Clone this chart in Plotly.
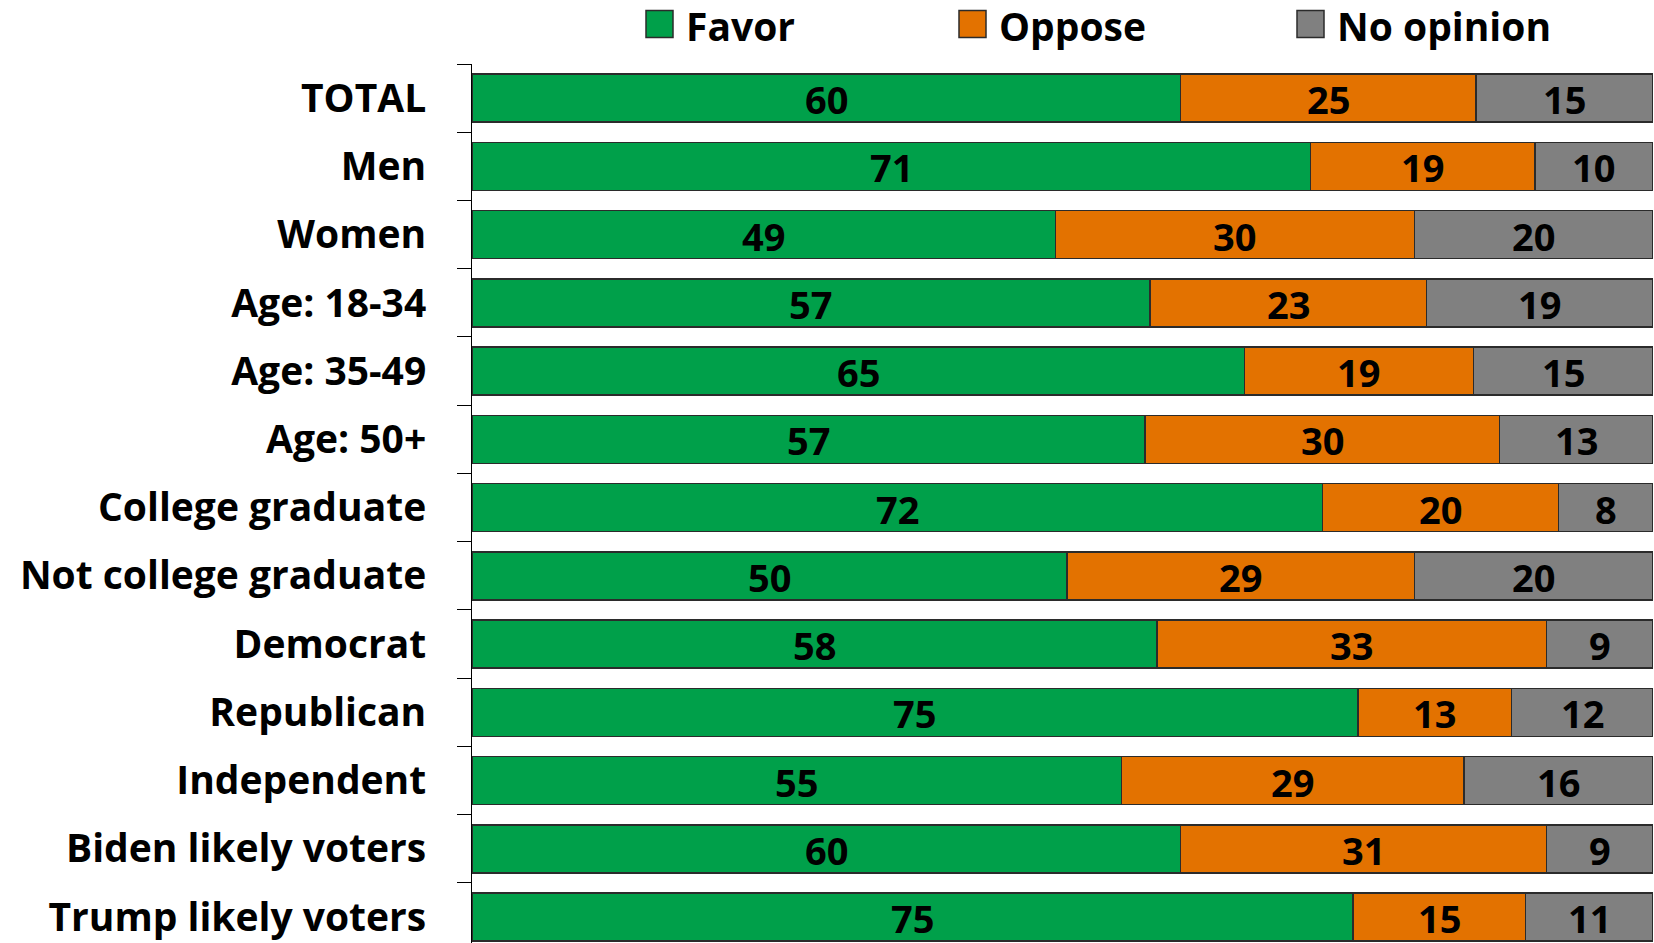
import plotly.graph_objects as go

categories = ["TOTAL", "Men", "Women", "Age: 18-34", "Age: 35-49", "Age: 50+",
              "College graduate", "Not college graduate", "Democrat", "Republican",
              "Independent", "Biden likely voters", "Trump likely voters"]
# shares in percent (bar lengths; labels show them rounded)
favor = [60, 71, 49.4, 57.4, 65.4, 57, 72, 50.4, 58, 75, 55, 60, 74.6]
oppose = [25, 19, 30.4, 23.4, 19.4, 30, 20, 29.4, 33, 13, 29, 31, 14.6]
no_opinion = [15, 10, 20.2, 19.2, 15.2, 13, 8, 20.2, 9, 12, 16, 9, 10.8]

series = [("Favor", favor, "#00A04A"),
          ("Oppose", oppose, "#E37200"),
          ("No opinion", no_opinion, "#808080")]

FONT = "Open Sans"
W, H = 1654, 943
L, R, T, B = 472, 1, 64, 0
plot_w = W - L - R
plot_h = H - T - B
XMAX = 100

fig = go.Figure()
base = [0] * len(categories)
for name, vals, color in series:
    fig.add_trace(go.Bar(
        y=categories, x=vals, name=name, orientation="h",
        marker=dict(color=color, line=dict(color="#2b2b2b", width=1.5)),
        showlegend=False, hovertemplate="%{y}: %{x:.0f}<extra>" + name + "</extra>",
    ))
    # value labels centred in each segment (positions computed from the data)
    for cat, b, v in zip(categories, base, vals):
        fig.add_annotation(
            x=min(b + v / 2, (b + XMAX) / 2), y=cat, xref="x", yref="y",
            text=f"{v:.0f}", showarrow=False, xanchor="center", yanchor="middle",
            yshift=-1,
            font=dict(family=FONT, size=38, color="black", weight="bold"),
        )
    base = [b + v for b, v in zip(base, vals)]

# legend with large square swatches (page pixel positions)
legend_px = [646, 959, 1297]
sq = 27
for (name, vals, color), px in zip(series, legend_px):
    x0 = (px - L) / plot_w
    x1 = (px + sq - L) / plot_w
    yc = 1 + (T - 25) / plot_h
    yq = 1 + (T - 24) / plot_h
    hh = (sq / 2) / plot_h
    fig.add_shape(type="rect", xref="paper", yref="paper",
                  x0=x0, x1=x1, y0=yq - hh, y1=yq + hh,
                  fillcolor=color, line=dict(color="#2b2b2b", width=1.5))
    fig.add_annotation(xref="paper", yref="paper", x=(px + sq + 11 - L) / plot_w, y=yc,
                       text=name, showarrow=False, xanchor="left", yanchor="middle",
                       font=dict(family=FONT, size=39, color="black", weight="bold"))

n = len(categories)
fig.update_layout(
    barmode="stack", bargap=0.296,
    width=W, height=H,
    margin=dict(l=L, r=R, t=T, b=B, pad=0),
    plot_bgcolor="white", paper_bgcolor="white",
    font=dict(family=FONT, color="black"),
    xaxis=dict(range=[0, XMAX], visible=False, showgrid=False, zeroline=False),
    yaxis=dict(
        categoryorder="array", categoryarray=categories,
        range=[n - 1 + 0.38, -0.5],
        showline=True, linecolor="black", linewidth=1,
        ticks="outside", ticklen=14, tickcolor="black", tickson="boundaries",
        ticklabelstandoff=37,
        tickfont=dict(family=FONT, size=39, color="black", weight="bold"),
        showgrid=False, zeroline=False,
    ),
)

fig.write_html(
    "out.html",
    config={"displayModeBar": False},
    post_script="document.body.style.margin='0';document.body.style.padding='0';",
)
